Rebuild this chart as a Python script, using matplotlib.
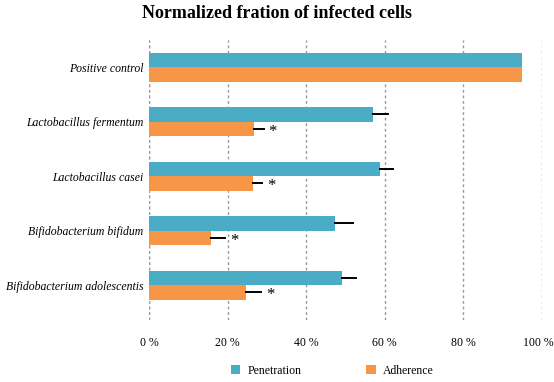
import numpy as np
import matplotlib.pyplot as plt
import matplotlib.transforms as mtransforms

plt.rcParams['font.family'] = ['Liberation Serif', 'DejaVu Serif']

categories = ["Positive control", "Lactobacillus fermentum", "Lactobacillus casei",
              "Bifidobacterium bifidum", "Bifidobacterium adolescentis"]
penetration = [95.0, 57.0, 58.8, 47.3, 49.0]
penetration_err = [0.0, 3.8, 3.3, 4.5, 3.6]
adherence = [95.0, 26.7, 26.5, 15.8, 24.6]
adherence_err = [0.0, 2.5, 2.3, 3.6, 3.9]
significant = [False, True, True, True, True]
xticks = [0, 20, 40, 60, 80, 100]

fig = plt.figure(figsize=(5.54, 3.82), dpi=100)
ax = fig.add_axes([149 / 554, 1 - 320 / 382, (542 - 149) / 554, 280 / 382])

y = np.arange(len(categories))
h = 0.265
blue = '#4BACC6'
orange = '#F79646'

ax.barh(y - h / 2, penetration, height=h, color=blue, label='Penetration', zorder=2)
ax.barh(y + h / 2, adherence, height=h, color=orange, label='Adherence', zorder=2)

for i in range(len(categories)):
    if penetration_err[i] > 0:
        ax.plot([penetration[i], penetration[i] + penetration_err[i]], [y[i] - h / 2] * 2,
                color='black', lw=1.4, zorder=3)
    if adherence_err[i] > 0:
        ax.plot([adherence[i], adherence[i] + adherence_err[i]], [y[i] + h / 2] * 2,
                color='black', lw=1.4, zorder=3)
    if significant[i]:
        ax.text(adherence[i] + adherence_err[i] + 1.2, y[i] + h / 2 + 0.05, '*',
                fontsize=12, va='center', ha='left')

ax.set_yticks(y)
ax.set_yticklabels(categories, fontstyle='italic', fontsize=8.5)
ax.set_ylim(4.64, -0.5)
ax.set_xlim(0, 100)
ax.set_xticks(xticks)
ax.set_xticklabels([f"{t} %" for t in xticks], fontsize=8.5)
ax.tick_params(length=0)
ax.tick_params(axis='x', pad=12)
ax.tick_params(axis='y', pad=4)
# keep the last tick label inside the figure
last = ax.get_xticklabels()[-1]
last.set_transform(last.get_transform() + mtransforms.ScaledTranslation(-3 / 72, 0, fig.dpi_scale_trans))
for s in ax.spines.values():
    s.set_visible(False)
ax.set_axisbelow(True)
ax.xaxis.grid(True, color='#999999', linestyle=(0, (2, 2)), lw=1)
ax.axvline(0, color='#999999', linestyle=(0, (2, 2)), lw=1, zorder=1)

fig.text(0.5, 1 - 14 / 382, 'Normalized fration of infected cells', ha='center', va='center',
         fontsize=13, fontweight='bold')
fig.legend(loc='center', bbox_to_anchor=(0.6, 1 - 371 / 382), ncol=2, frameon=False,
           fontsize=8.5, handlelength=0.8, handleheight=0.8, columnspacing=5.5, handletextpad=0.6)

fig.savefig('out.png', dpi=100)
